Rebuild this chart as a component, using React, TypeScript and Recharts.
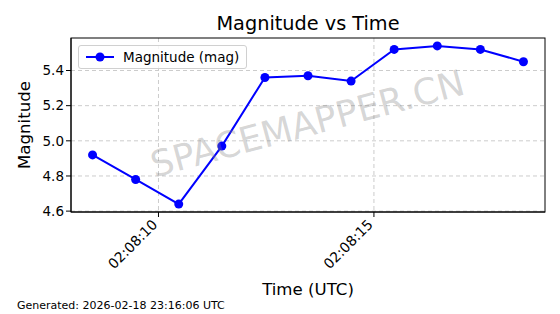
import React from "react";
import { LineChart, Line, XAxis, YAxis, CartesianGrid } from "recharts";

// seconds after 02:08:00 UTC
const timeSec = [8.47, 9.47, 10.47, 11.47, 12.47, 13.47, 14.47, 15.47, 16.47, 17.47, 18.47];
const magnitude = [4.92, 4.78, 4.64, 4.97, 5.36, 5.37, 5.34, 5.52, 5.54, 5.52, 5.45];
const xTicks = [10, 15];
const yTicks = [4.6, 4.8, 5.0, 5.2, 5.4];
const seriesName = "Magnitude (mag)";
const title = "Magnitude vs Time";
const xLabel = "Time (UTC)";
const yLabel = "Magnitude";
const footer = "Generated: 2026-02-18 23:16:06 UTC";
const watermark = "SPACEMAPPER.CN";

const data = timeSec.map((t, i) => ({ t, mag: magnitude[i] }));

const FONT = "'DejaVu Sans', sans-serif";

const fmtTime = (s: number) => {
  const ss = Math.floor(s);
  return `02:08:${ss < 10 ? "0" + ss : ss}`;
};

const XTick = (props: any) => {
  const { x, y, payload } = props;
  return (
    <g transform={`translate(${x - 5},${y})`}>
      <text
        x={-1}
        y={0}
        dy={8}
        textAnchor="end"
        transform="rotate(-45)"
        fontSize={14}
        fontFamily={FONT}
        fill="#000"
      >
        {fmtTime(payload.value)}
      </text>
    </g>
  );
};

const LegendBox = () => (
  <div
    style={{
      position: "absolute",
      left: 78,
      top: 45,
      border: "1px solid #d0d0d0",
      borderRadius: 3,
      background: "rgba(255,255,255,0.8)",
      display: "flex",
      alignItems: "center",
      height: 24,
      width: 169,
      boxSizing: "border-box",
      fontFamily: FONT,
      fontSize: 13.5,
      color: "#000",
    }}
  >
    <svg width={40} height={20} style={{ marginLeft: 4 }}>
      <line x1={3} y1={10} x2={31} y2={10} stroke="#0000ff" strokeWidth={2} />
      <circle cx={17} cy={10} r={4.5} fill="#0000ff" />
    </svg>
    <span style={{ marginLeft: 0 }}>{seriesName}</span>
  </div>
);

export default function App() {
  return (
    <div style={{ position: "absolute", left: 0, top: 0, width: 560, height: 314, background: "#fff" }}>
      <LineChart
        width={560}
        height={314}
        data={data}
        margin={{ top: 38, right: 15, left: 0, bottom: 42 }}
      >
        <CartesianGrid stroke="#cccccc" strokeDasharray="4 3" verticalValues={xTicks} horizontalValues={yTicks} />
        <XAxis
          dataKey="t"
          type="number"
          domain={[7.97, 18.97]}
          ticks={xTicks}
          tick={<XTick />}
          tickSize={5}
          tickLine={{ stroke: "#000" }}
          axisLine={{ stroke: "#000" }}
          height={60}
          allowDataOverflow
          interval={0}
        />
        <YAxis
          type="number"
          domain={[4.595, 5.585]}
          ticks={yTicks}
          tickFormatter={(v: number) => v.toFixed(1)}
          tick={{ fontSize: 13.5, fontFamily: FONT, fill: "#000" }}
          tickSize={5}
          tickLine={{ stroke: "#000" }}
          axisLine={{ stroke: "#000" }}
          width={71}
          allowDataOverflow
          interval={0}
        />
        <Line
          type="linear"
          dataKey="mag"
          stroke="#0000ff"
          strokeWidth={2}
          dot={{ r: 4.5, fill: "#0000ff", stroke: "#0000ff", strokeWidth: 0 }}
          activeDot={false}
          isAnimationActive={false}
        />
      </LineChart>
      <svg width={560} height={314} style={{ position: "absolute", left: 0, top: 0, pointerEvents: "none" }}>
        <rect x={71} y={38} width={474} height={174} fill="none" stroke="#000" strokeWidth={1} />
        <text x={308} y={30} textAnchor="middle" fontSize={19.3} fontFamily={FONT} fill="#000">
          {title}
        </text>
        <text x={308} y={295} textAnchor="middle" fontSize={16.6} fontFamily={FONT} fill="#000">
          {xLabel}
        </text>
        <text
          x={0}
          y={0}
          transform="translate(30,125) rotate(-90)"
          textAnchor="middle"
          fontSize={16.6}
          fontFamily={FONT}
          fill="#000"
        >
          {yLabel}
        </text>
        <text x={17} y={309} fontSize={11} fontFamily={FONT} fill="#000">
          {footer}
        </text>
        <text
          x={0}
          y={0}
          transform="translate(308,126) rotate(-15)"
          textAnchor="middle"
          dominantBaseline="middle"
          fontSize={36}
          fontFamily={FONT}
          fill="#808080"
          fillOpacity={0.32}
        >
          {watermark}
        </text>
      </svg>
      <LegendBox />
    </div>
  );
}
